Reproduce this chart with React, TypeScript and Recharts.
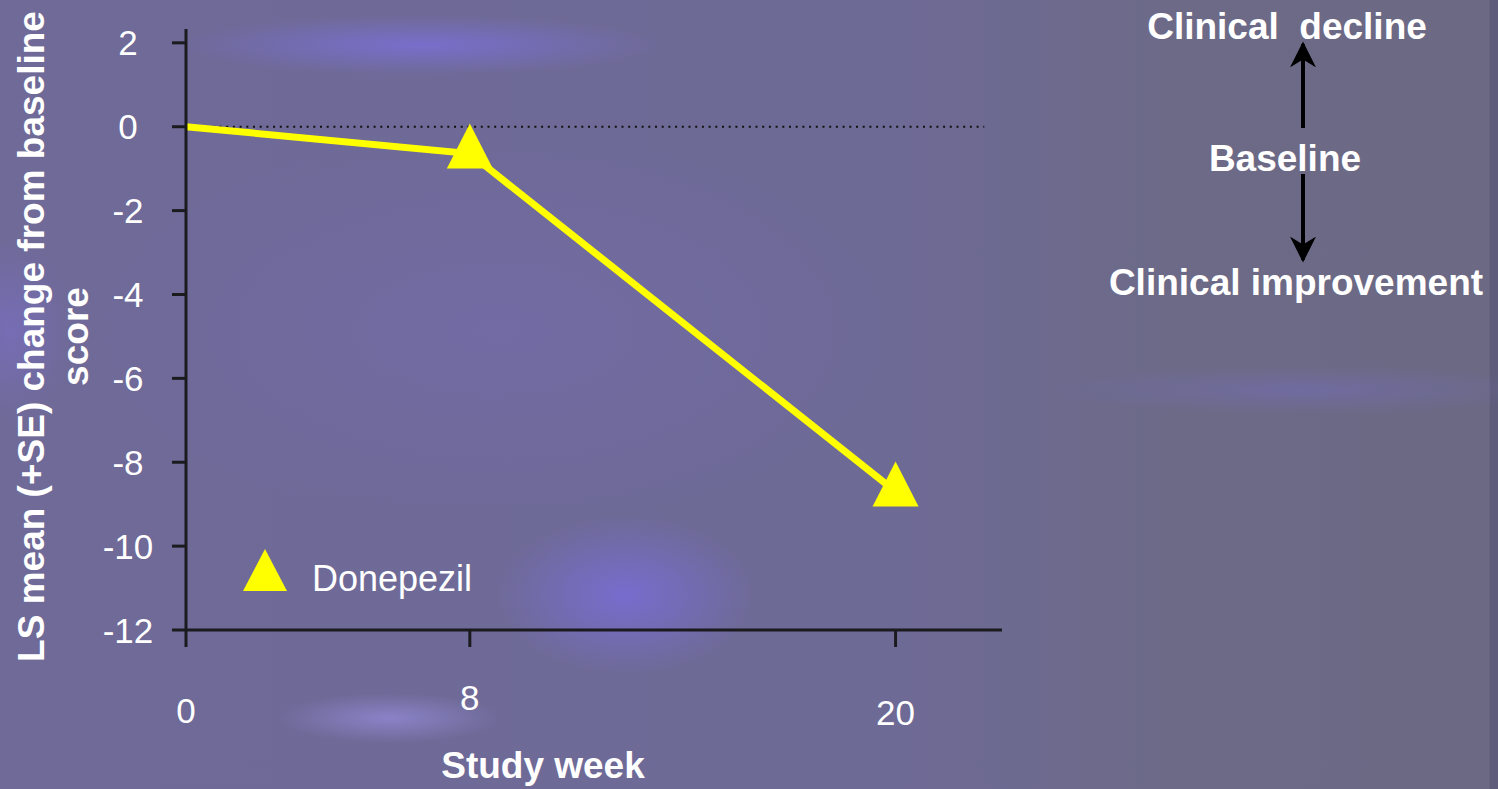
import { LineChart, Line, XAxis, YAxis, ReferenceLine, Legend } from 'recharts'

const weeks = [0, 8, 20]
const donepezil = [0, -0.64, -8.7]
const xTicks = [0, 8, 20]
const yTicks = [2, 0, -2, -4, -6, -8, -10, -12]
const seriesName = 'Donepezil'

const data = weeks.map((w, i) => ({ week: w, value: donepezil[i] }))

const FONT = '"Liberation Sans", Arial, Helvetica, sans-serif'
const AXIS = '#1b1b1f'
const YELLOW = '#ffff00'

// tick labels in the slide sit at slightly uneven heights
const xTickDy: Record<number, number> = { 0: 74, 8: 61, 20: 76 }

function tri(cx: number, cy: number, w = 46, h = 45) {
  return `${cx},${cy - (2 * h) / 3} ${cx - w / 2},${cy + h / 3} ${cx + w / 2},${cy + h / 3}`
}

function YTick({ x, y, payload }: any) {
  return (
    <text x={x - 42} y={y} dy="0.36em" textAnchor="middle" fill="#fff" fontSize={35} fontFamily={FONT}>
      {payload.value}
    </text>
  )
}

function XTick({ x, y, payload }: any) {
  return (
    <text x={x} y={y + (xTickDy[payload.value] ?? 70)} textAnchor="middle" fill="#fff" fontSize={35} fontFamily={FONT}>
      {payload.value}
    </text>
  )
}

function TriDot({ cx, cy, index }: any) {
  if (index === 0) return <g key={`d${index}`} />
  return <polygon key={`d${index}`} points={tri(cx, cy)} fill={YELLOW} />
}

function YLabel({ viewBox }: any) {
  const cy = viewBox.y + viewBox.height / 2 + 7
  return (
    <g fill="#fff" fontSize={37} fontWeight="bold" fontFamily={FONT}>
      <text transform={`rotate(-90, 44, ${cy})`} x={44} y={cy} textAnchor="middle">
        LS mean (+SE) change from baseline
      </text>
      <text transform={`rotate(-90, 88, ${cy})`} x={88} y={cy} textAnchor="middle">
        score
      </text>
    </g>
  )
}

function XLabel({ viewBox }: any) {
  return (
    <text x={543} y={viewBox.y + 148} textAnchor="middle" fill="#fff" fontSize={37} fontWeight="bold" fontFamily={FONT}>
      Study week
    </text>
  )
}

function LegendBox() {
  return (
    <div style={{ display: 'flex', alignItems: 'center', fontFamily: FONT, fontSize: 36, color: '#fff' }}>
      <svg width={44} height={44} style={{ marginRight: 25 }}>
        <polygon points="22,1 0,43 44,43" fill={YELLOW} />
      </svg>
      <span style={{ position: 'relative', top: 9 }}>{seriesName}</span>
    </div>
  )
}

const bg = [
  'radial-gradient(ellipse 240px 30px at 420px 45px, rgba(125,112,225,0.7), rgba(125,112,225,0) 100%)',
  'radial-gradient(ellipse 130px 80px at 625px 595px, rgba(125,110,235,0.65), rgba(125,110,235,0) 100%)',
  'radial-gradient(ellipse 110px 25px at 390px 718px, rgba(150,140,220,0.7), rgba(150,140,220,0) 100%)',
  'radial-gradient(ellipse 60px 90px at 10px 330px, rgba(125,112,210,0.5), rgba(125,112,210,0) 100%)',
  'radial-gradient(ellipse 400px 200px at 500px 330px, rgba(118,108,180,0.45), rgba(118,108,180,0) 100%)',
  'radial-gradient(ellipse 250px 25px at 1300px 390px, rgba(120,110,200,0.4), rgba(120,110,200,0) 100%)',
  'linear-gradient(90deg, #6f6a98 0%, #6e6a96 60%, #6c6a86 80%, #6b6984 99.4%, #5e5c7a 99.5%)',
].join(', ')

export default function App() {
  return (
    <div style={{ position: 'absolute', left: 0, top: 0, width: 1498, height: 789, background: bg, overflow: 'hidden' }}>
      <LineChart width={1498} height={789} data={data} margin={{ top: 29, right: 496, bottom: 99, left: 0 }}>
        <XAxis
          type="number"
          dataKey="week"
          domain={[0, 23]}
          ticks={xTicks}
          interval={0}
          height={60}
          tickSize={17}
          tickLine={{ stroke: AXIS, strokeWidth: 3 }}
          axisLine={{ stroke: AXIS, strokeWidth: 3 }}
          tick={<XTick />}
          label={{ content: <XLabel /> }}
        />
        <YAxis
          type="number"
          domain={[-12, 2.33]}
          ticks={yTicks}
          interval={0}
          allowDataOverflow
          width={186}
          tickSize={14}
          tickLine={{ stroke: AXIS, strokeWidth: 3 }}
          axisLine={{ stroke: AXIS, strokeWidth: 3 }}
          tick={<YTick />}
          label={{ content: <YLabel /> }}
        />
        <ReferenceLine
          segment={[{ x: 0, y: 0 }, { x: 22.5, y: 0 }]}
          stroke="#111"
          strokeWidth={2}
          strokeDasharray="2 4.7"
        />
        <Legend
          layout="horizontal"
          verticalAlign="middle"
          align="center"
          content={<LegendBox />}
          wrapperStyle={{ position: 'absolute', left: 243, top: 548, width: 'auto', bottom: 'auto' }}
        />
        <Line
          type="linear"
          dataKey="value"
          name={seriesName}
          stroke={YELLOW}
          strokeWidth={7}
          dot={TriDot}
          activeDot={false}
          isAnimationActive={false}
        />
      </LineChart>
      <svg width={1498} height={789} style={{ position: 'absolute', left: 0, top: 0, pointerEvents: 'none' }}>
        <defs>
          <marker id="ah" viewBox="0 0 10 10" refX="9" refY="5" markerWidth="6.5" markerHeight="6.5" orient="auto">
            <path d="M0,0 L10,5 L0,10 L3,5 Z" fill="#000" />
          </marker>
        </defs>
        <g fill="#fff" fontSize={37} fontWeight="bold" fontFamily={FONT} textAnchor="middle">
          <text x={1287} y={39} style={{ whiteSpace: 'pre' }}>Clinical  decline</text>
          <text x={1285} y={171}>Baseline</text>
          <text x={1296} y={295}>Clinical improvement</text>
        </g>
        <line x1={1303} y1={128} x2={1303} y2={44} stroke="#000" strokeWidth={4} markerEnd="url(#ah)" />
        <line x1={1303} y1={174} x2={1303} y2={260} stroke="#000" strokeWidth={4} markerEnd="url(#ah)" />
      </svg>
    </div>
  )
}
